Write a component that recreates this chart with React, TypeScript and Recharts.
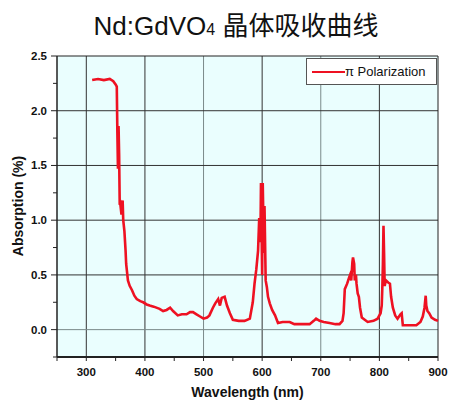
import { LineChart, Line, XAxis, YAxis, CartesianGrid, ReferenceLine } from 'recharts';

const wavelength = [
  310, 320, 330, 340, 346, 350, 352, 353, 354, 355, 356, 357, 358, 360, 362, 363, 365, 367, 368, 369,
  371, 374, 378, 382, 386, 392, 397, 403, 408, 415, 425, 431, 437, 443, 448, 456, 463, 471, 477, 482,
  488, 494, 500, 506, 510, 516, 520, 525, 528, 531, 536, 540, 545, 550, 560, 570, 579, 584, 587, 590,
  593, 595, 597, 598, 600, 601, 603, 604, 606, 608, 610, 613, 617, 622, 627, 635, 647, 655, 670, 681,
  688, 692, 698, 705, 715, 725, 732, 737, 739, 741, 745, 748, 750, 752, 754, 755, 757, 758, 760, 761,
  763, 765, 767, 770, 775, 780, 790, 797, 802, 804, 805, 806, 807, 808, 809, 811, 815, 818, 820, 823,
  827, 831, 836, 838, 840, 850, 863, 870, 874, 877, 879, 880, 882, 885, 889, 895, 900,
];

const absorption = [
  2.28, 2.29, 2.28, 2.29, 2.27, 2.24, 2.22, 1.8, 1.47, 1.86, 1.6, 1.14, 1.15, 1.05, 1.18, 1.0, 0.9, 0.72, 0.6, 0.55,
  0.45, 0.4, 0.36, 0.31, 0.28, 0.26, 0.25, 0.23, 0.22, 0.21, 0.19, 0.17, 0.18, 0.2, 0.17, 0.13, 0.14, 0.14, 0.16, 0.16,
  0.14, 0.12, 0.1, 0.11, 0.13, 0.2, 0.24, 0.28, 0.22, 0.29, 0.3, 0.22, 0.15, 0.09, 0.08, 0.08, 0.1, 0.25, 0.42, 0.55,
  0.72, 1.02, 0.8, 1.34, 0.5, 1.34, 0.7, 1.13, 0.45, 0.39, 0.3, 0.24, 0.18, 0.13, 0.06, 0.07, 0.07, 0.05, 0.05, 0.05,
  0.08, 0.1, 0.08, 0.07, 0.06, 0.05, 0.05, 0.08, 0.15, 0.37, 0.42, 0.47, 0.5, 0.45, 0.62, 0.66, 0.6, 0.45, 0.5, 0.42,
  0.33, 0.3, 0.2, 0.11, 0.09, 0.07, 0.08, 0.1, 0.15, 0.22, 0.38, 0.6, 0.95, 0.7, 0.4, 0.45, 0.43, 0.42, 0.3, 0.2,
  0.13, 0.1, 0.14, 0.15, 0.04, 0.04, 0.04, 0.07, 0.12, 0.2, 0.31, 0.22, 0.17, 0.15, 0.11, 0.09, 0.08,
];

const xTicks = [250, 300, 350, 400, 450, 500, 550, 600, 650, 700, 750, 800, 850, 900];
const yTicks = [-0.25, 0, 0.25, 0.5, 0.75, 1, 1.25, 1.5, 1.75, 2, 2.25, 2.5];
const xGrid = [300, 400, 500, 600, 700, 800];
const yGrid = [0, 0.5, 1, 1.5, 2];

const data = wavelength.map((wl, i) => ({ wl, abs: absorption[i] }));

const font = 'Arial, "Liberation Sans", sans-serif';

const XTick = (props: any) => {
  const { x, y, payload } = props;
  const major = payload.value % 100 === 0;
  return (
    <g>
      <line x1={x} y1={y} x2={x} y2={y + 4} stroke="#222" strokeWidth={1} />
      {major && (
        <text x={x} y={y + 19} textAnchor="middle" fontSize={11.5} fontWeight="bold" fill="#111" fontFamily={font}>
          {payload.value}
        </text>
      )}
    </g>
  );
};

const YTick = (props: any) => {
  const { x, y, payload } = props;
  const v = payload.value;
  const major = Math.abs(v * 2 - Math.round(v * 2)) < 1e-6;
  return (
    <g>
      <line x1={x} y1={y} x2={x - (major ? 6 : 4)} y2={y} stroke="#222" strokeWidth={1} />
      {major && (
        <text x={x - 10} y={y + 4} textAnchor="end" fontSize={11.5} fontWeight="bold" fill="#111" fontFamily={font}>
          {v.toFixed(1)}
        </text>
      )}
    </g>
  );
};

const YLabel = () => (
  <text
    x={23}
    y={206}
    transform="rotate(-90, 23, 206)"
    textAnchor="middle"
    fontSize={14}
    fontWeight="bold"
    fill="#111"
    fontFamily={font}
  >
    Absorption (%)
  </text>
);

const App = () => {
  return (
    <div style={{ position: 'absolute', left: 0, top: 0, width: 449, height: 401, background: '#fff' }}>
      <div
        style={{
          position: 'absolute',
          left: 0,
          width: 472,
          top: 5,
          textAlign: 'center',
          fontSize: 26,
          fontFamily: 'Arial, "Liberation Sans", "Noto Sans CJK SC", sans-serif',
          color: '#111',
          whiteSpace: 'nowrap',
        }}
      >
        Nd:GdVO<span style={{ fontSize: 16 }}>4</span> 晶体吸收曲线
      </div>
      <LineChart width={449} height={401} data={data} margin={{ top: 56, right: 11, left: 0, bottom: 0 }}>
        <CartesianGrid fill="#eafefe" stroke="none" horizontal={false} vertical={false} />
        {xGrid.map((v) => (
          <ReferenceLine key={'x' + v} x={v} stroke={v === 500 || v === 700 ? '#7a8a8a' : '#333'} strokeWidth={1} />
        ))}
        {yGrid.map((v) => (
          <ReferenceLine key={'y' + v} y={v} stroke={v === 0 ? '#7a8a8a' : '#333'} strokeWidth={1} />
        ))}
        <ReferenceLine y={2.5} stroke="#222" strokeWidth={1} />
        <ReferenceLine x={900} stroke="#222" strokeWidth={1} />
        <XAxis
          dataKey="wl"
          type="number"
          domain={[250, 900]}
          ticks={xTicks}
          interval={0}
          height={44}
          tickSize={0}
          tickMargin={0}
          tick={<XTick />}
          axisLine={{ stroke: '#222', strokeWidth: 2 }}
          label={{
            value: 'Wavelength (nm)',
            position: 'insideBottom',
            offset: 4,
            style: { fontSize: 14, fontWeight: 'bold', fill: '#111', fontFamily: font },
          }}
        />
        <YAxis
          type="number"
          domain={[-0.25, 2.5]}
          ticks={yTicks}
          interval={0}
          width={57}
          tickSize={0}
          tickMargin={0}
          tick={<YTick />}
          axisLine={{ stroke: '#222', strokeWidth: 1.5 }}
          label={<YLabel />}
        />
        <Line
          type="linear"
          dataKey="abs"
          stroke="#ee1122"
          strokeWidth={2.6}
          dot={false}
          isAnimationActive={false}
        />
      </LineChart>
      <div
        style={{
          position: 'absolute',
          left: 306,
          top: 58,
          width: 131,
          height: 27,
          background: '#fff',
          border: '1px solid #555',
          boxSizing: 'border-box',
          display: 'flex',
          alignItems: 'center',
          fontFamily: font,
          fontSize: 13,
          color: '#111',
        }}
      >
        <span style={{ display: 'inline-block', width: 33, height: 2, background: '#ee1122', marginLeft: 5 }} />
        <span>π Polarization</span>
      </div>
    </div>
  );
};

export default App;
